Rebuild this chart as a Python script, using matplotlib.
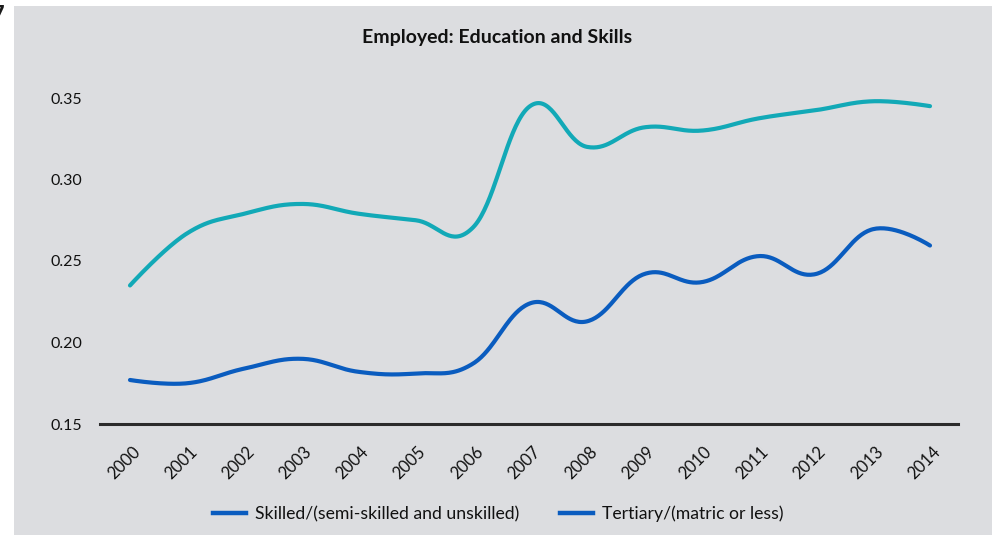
import numpy as np
import matplotlib
matplotlib.use("Agg")
import matplotlib.pyplot as plt
from matplotlib.patches import Rectangle
from matplotlib.lines import Line2D
from matplotlib.transforms import ScaledTranslation

plt.rcParams['font.family'] = ['Lato', 'DejaVu Sans']

years = list(range(2000, 2015))
year_labels = [str(y) for y in years]
skilled = [0.235, 0.267, 0.279, 0.285, 0.279, 0.275, 0.2705, 0.345, 0.320,
           0.332, 0.330, 0.3375, 0.3425, 0.348, 0.345]
tertiary = [0.177, 0.175, 0.184, 0.190, 0.182, 0.181, 0.187, 0.224, 0.213,
            0.242, 0.237, 0.253, 0.242, 0.2695, 0.2595]
series_names = ["Skilled/(semi-skilled and unskilled)", "Tertiary/(matric or less)"]
title = "Employed: Education and Skills"
y_ticks = [0.15, 0.20, 0.25, 0.30, 0.35]

TEAL = "#12a9b7"
BLUE = "#0a5cbf"
BG = "#dcdde0"


def spline_curve(xs, ys, smoothing=1.5, steps=40):
    """Smooth curve through the points using bezier control points."""
    xs = np.asarray(xs, float)
    ys = np.asarray(ys, float)
    n = len(xs)
    left = [(xs[i], ys[i]) for i in range(n)]
    right = [(xs[i], ys[i]) for i in range(n)]
    d = smoothing + 1
    for i in range(1, n - 1):
        x, y = xs[i], ys[i]
        lx, ly = xs[i - 1], ys[i - 1]
        nx, ny = xs[i + 1], ys[i + 1]
        lcx = (smoothing * x + lx) / d
        lcy = (smoothing * y + ly) / d
        rcx = (smoothing * x + nx) / d
        rcy = (smoothing * y + ny) / d
        if rcx != lcx:
            corr = ((rcy - lcy) * (rcx - x)) / (rcx - lcx) + y - rcy
            lcy += corr
            rcy += corr
        left[i] = (lcx, lcy)
        right[i] = (rcx, rcy)
    t = np.linspace(0, 1, steps)
    px, py = [], []
    for i in range(n - 1):
        p0 = np.array([xs[i], ys[i]])
        p1 = np.array(right[i])
        p2 = np.array(left[i + 1])
        p3 = np.array([xs[i + 1], ys[i + 1]])
        pts = ((1 - t)[:, None] ** 3 * p0 + 3 * ((1 - t) ** 2 * t)[:, None] * p1
               + 3 * ((1 - t) * t ** 2)[:, None] * p2 + (t ** 3)[:, None] * p3)
        px.extend(pts[:, 0])
        py.extend(pts[:, 1])
    return np.array(px), np.array(py)


fig = plt.figure(figsize=(9.92, 5.35), dpi=100, facecolor="white")
fig.patches.append(Rectangle((14 / 992, 0), 1, 1 - 6 / 535, transform=fig.transFigure,
                             facecolor=BG, edgecolor="none", zorder=-10))
fig.text(-0.009, 0.992, "7", fontsize=17, fontweight="bold", ha="left", va="top",
         color="#1a1a1a")

ax = fig.add_axes([100 / 992, 1 - 424 / 535, 858 / 992, (424 - 81.7) / 535])
ax.set_facecolor("none")

for vals, col in ((skilled, TEAL), (tertiary, BLUE)):
    cx, cy = spline_curve(years, vals)
    ax.plot(cx, cy, color=col, lw=3.0, solid_capstyle="round", zorder=3)

ax.set_xlim(2000 - 30 / 57.14, 2014 + 28 / 57.14)
ax.set_ylim(0.15, 0.36)

for s in ("top", "right", "left"):
    ax.spines[s].set_visible(False)
ax.spines["bottom"].set_color("#2b2b2b")
ax.spines["bottom"].set_linewidth(2.2)

ax.set_yticks(y_ticks)
ax.set_yticklabels([f"{v:.2f}" for v in y_ticks])
ax.tick_params(axis="y", length=0, pad=13, labelsize=11.5, labelcolor="#111111")

ax.set_xticks(years)
ax.set_xticklabels(year_labels)
ax.tick_params(axis="x", length=0, pad=14, labelsize=12, labelcolor="#111111")
offset = ScaledTranslation(2 / 100, 0, fig.dpi_scale_trans)
for lab in ax.get_xticklabels():
    lab.set_rotation(45)
    lab.set_ha("right")
    lab.set_va("top")
    lab.set_rotation_mode("anchor")
    lab.set_transform(lab.get_transform() + offset)

fig.text(497 / 992, 1 - 38 / 535, title, ha="center", va="center",
         fontsize=14, fontweight="bold", color="#111111")

handles = [Line2D([], [], color=BLUE, lw=3.2) for _ in series_names]
fig.legend(handles, series_names, loc="center", bbox_to_anchor=(498 / 992, 1 - 514 / 535),
           ncol=2, frameon=False, fontsize=12.7, handlelength=1.9, columnspacing=2.3,
           handletextpad=0.5, labelcolor="#111111")

fig.savefig("out.png", dpi=100, facecolor="white")
